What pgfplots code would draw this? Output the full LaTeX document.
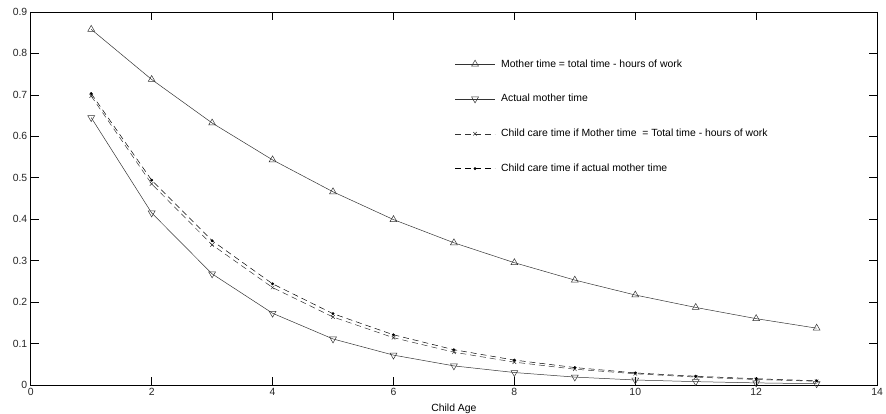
\documentclass[border=0pt]{standalone}
\usepackage{fontspec}
\setmainfont{Liberation Sans}
\usepackage{pgfplots}
\pgfplotsset{compat=1.18}

\begin{document}
\begin{tikzpicture}
\begin{axis}[
    name=main,
    scale only axis,
    width=853pt, height=376pt,
    xmin=0, xmax=14, ymin=0, ymax=0.9,
    xtick={0,2,...,14},
    ytick={0,0.1,...,0.9},
    yticklabel style={/pgf/number format/fixed, /pgf/number format/precision=1},
    /pgf/number format/assume math mode=true,
    tick align=inside,
    major tick length=8pt,
    tick style={black, line width=0.6pt},
    axis line style={black, line width=0.7pt},
    ticklabel style={font=\fontsize{10.5}{12}\selectfont, text=black!85},
    xlabel={Child Age},
    xlabel style={font=\fontsize{10.5}{12}\selectfont, yshift=-1pt},
    legend style={draw=none, fill=none, at={(0.501,0.878)}, anchor=north west,
        font=\fontsize{10.5}{12}\selectfont, row sep=22pt, inner sep=0pt},
    legend cell align=left,
    legend image code/.code={
        \draw[#1, mark repeat=2, mark phase=2] plot coordinates {(0pt,0pt) (20pt,0pt) (40pt,0pt)};
        \path (44pt,0pt);
    },
    every axis plot/.append style={line width=0.5pt},
]
\addplot[black!80, mark=triangle, mark size=4pt, mark options={solid}] coordinates {
    (1,0.858) (2,0.737) (3,0.632) (4,0.543) (5,0.466) (6,0.399) (7,0.343)
    (8,0.295) (9,0.253) (10,0.217) (11,0.187) (12,0.160) (13,0.137)
};
\addlegendentry{Mother time = total time - hours of work}
\addplot[black!80, mark=triangle, mark size=4pt, mark options={solid, rotate=180}] coordinates {
    (1,0.645) (2,0.415) (3,0.268) (4,0.173) (5,0.111) (6,0.072) (7,0.046)
    (8,0.030) (9,0.019) (10,0.012) (11,0.008) (12,0.005) (13,0.003)
};
\addlegendentry{Actual mother time}
\addplot[black!80, dash pattern=on 6pt off 4pt, mark=x, mark size=2.5pt, mark options={solid}] coordinates {
    (1,0.697) (2,0.485) (3,0.338) (4,0.235) (5,0.164) (6,0.114) (7,0.079)
    (8,0.055) (9,0.038) (10,0.027) (11,0.019) (12,0.013) (13,0.009)
};
\addlegendentry{Child care time if Mother time\ \ = Total time - hours of work}
\addplot[black, dash pattern=on 6pt off 4pt, mark=*, mark size=1.2pt, mark options={solid}] coordinates {
    (1,0.703) (2,0.494) (3,0.348) (4,0.244) (5,0.172) (6,0.121) (7,0.085)
    (8,0.060) (9,0.042) (10,0.029) (11,0.021) (12,0.015) (13,0.010)
};
\addlegendentry{Child care time if actual mother time}
\end{axis}
\pgfresetboundingbox
\path ([xshift=-31pt, yshift=-29pt]main.south west) rectangle ([xshift=9pt, yshift=12pt]main.north east);
\end{tikzpicture}
\end{document}
